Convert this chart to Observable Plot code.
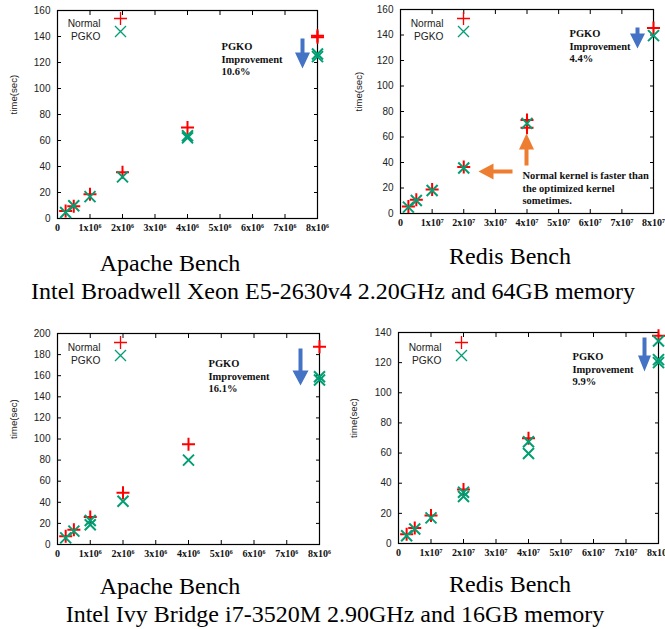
<!DOCTYPE html>
<html><head><meta charset="utf-8">
<script src="https://cdn.jsdelivr.net/npm/d3@7"></script>
<script src="https://cdn.jsdelivr.net/npm/@observablehq/plot@0.6"></script>
<style>
body{margin:0;background:#fff;}
#wrap{position:relative;width:665px;height:629px;overflow:hidden;background:#fff;}
.panel{position:absolute;}
.panel svg{overflow:visible;display:block;max-width:none;}
.t{position:absolute;font-family:"Liberation Serif","Times New Roman",serif;font-size:24px;line-height:24px;white-space:nowrap;color:#000;transform:translateX(-50%);}
</style></head>
<body><div id="wrap"></div>
<script>
// ---- tick values and labels ----
const apacheTicks = [0, 1e6, 2e6, 3e6, 4e6, 5e6, 6e6, 7e6, 8e6];
const apacheTickLabels = ["0", "1x10⁶", "2x10⁶", "3x10⁶", "4x10⁶", "5x10⁶", "6x10⁶", "7x10⁶", "8x10⁶"];
const redisTicks = [0, 1e7, 2e7, 3e7, 4e7, 5e7, 6e7, 7e7, 8e7];
const redisTickLabels = ["0", "1x10⁷", "2x10⁷", "3x10⁷", "4x10⁷", "5x10⁷", "6x10⁷", "7x10⁷", "8x10⁷"];
const yTicks160 = [0, 20, 40, 60, 80, 100, 120, 140, 160];
const yTicks200 = [0, 20, 40, 60, 80, 100, 120, 140, 160, 180, 200];
const yTicks140 = [0, 20, 40, 60, 80, 100, 120, 140];

// ---- Broadwell, Apache Bench ----
const bwApacheNormalX = [0.25e6, 0.5e6, 1e6, 2e6, 4e6, 8e6, 8e6];
const bwApacheNormalY = [5.7, 9.5, 18.6, 35.6, 70, 140.6, 139.4];
const bwApachePgkoX = [0.25e6, 0.5e6, 1e6, 2e6, 4e6, 4e6, 8e6, 8e6];
const bwApachePgkoY = [4.6, 9.8, 16.8, 32, 63.7, 62, 126.5, 124.5];

// ---- Broadwell, Redis Bench ----
const bwRedisNormalX = [0.25e7, 0.5e7, 1e7, 2e7, 4e7, 4e7, 8e7];
const bwRedisNormalY = [5.5, 10.8, 18.9, 36.5, 73.3, 67.2, 145.5];
const bwRedisPgkoX = [0.25e7, 0.5e7, 1e7, 2e7, 4e7, 8e7];
const bwRedisPgkoY = [5, 10.2, 18.1, 35.7, 70.7, 139.5];

// ---- Ivy Bridge, Apache Bench ----
const ivApacheNormalX = [0.25e6, 0.5e6, 1e6, 2e6, 4e6, 8e6];
const ivApacheNormalY = [7.9, 14, 26, 49, 95, 187.5];
const ivApachePgkoX = [0.25e6, 0.5e6, 1e6, 1e6, 2e6, 4e6, 8e6, 8e6];
const ivApachePgkoY = [6.3, 12.7, 22.8, 18.7, 41, 80, 159, 156];

// ---- Ivy Bridge, Redis Bench ----
const ivRedisNormalX = [0.25e7, 0.5e7, 1e7, 2e7, 4e7, 8e7];
const ivRedisNormalY = [6.2, 10.3, 18.5, 35.9, 69.8, 137.8];
const ivRedisPgkoX = [0.25e7, 0.5e7, 1e7, 2e7, 2e7, 4e7, 4e7, 8e7, 8e7, 8e7];
const ivRedisPgkoY = [5.1, 9.6, 17, 34, 31.2, 67.5, 59.7, 134.4, 122, 120];

// ---- texts ----
const titles = ["Apache Bench", "Redis Bench"];
const captions = ["Intel Broadwell Xeon E5-2630v4 2.20GHz and 64GB memory", "Intel Ivy Bridge i7-3520M 2.90GHz and 16GB memory"];
const improvements = ["10.6%", "4.4%", "16.1%", "9.9%"];
const seriesNames = ["Normal", "PGKO"];
const orangeNote = "Normal kernel is faster than\nthe optimized kernel\nsometimes.";

// ---- styling ----
const RED = "#ff0000", GREEN = "#009e73", BLUE = "#4472c4", ORANGE = "#ed7d31";
const SANS = "Liberation Sans, Arial, sans-serif";
const SERIF = "Liberation Serif, Times New Roman, serif";

const plusSym = {draw(ctx, size) { const r = Math.sqrt(size / Math.PI); ctx.moveTo(-r, 0); ctx.lineTo(r, 0); ctx.moveTo(0, -r); ctx.lineTo(0, r); }};
const timesSym = {draw(ctx, size) { const r = Math.sqrt(size / Math.PI); ctx.moveTo(-r, -r); ctx.lineTo(r, r); ctx.moveTo(-r, r); ctx.lineTo(r, -r); }};
function arrowSym(len, headLen, headW, shaftW) {
  return {draw(ctx) {
    ctx.moveTo(0, 0); ctx.lineTo(headW / 2, -headLen); ctx.lineTo(shaftW / 2, -headLen);
    ctx.lineTo(shaftW / 2, -len); ctx.lineTo(-shaftW / 2, -len); ctx.lineTo(-shaftW / 2, -headLen);
    ctx.lineTo(-headW / 2, -headLen); ctx.closePath();
  }};
}

function panel(cfg) {
  const {left, top, width, height, m, xTicks, xLabels, yTicks, normalX, normalY, pgkoX, pgkoY, note, arrows, extra} = cfg;
  const xMax = xTicks[xTicks.length - 1], yMax = yTicks[yTicks.length - 1];
  const marks = [
    Plot.axisY({ticks: yTicks, anchor: "left", tickSize: -4, tickPadding: 11, fontFamily: SANS, fontSize: 10, fill: "#222", stroke: "#000"}),
    Plot.axisY({ticks: yTicks, anchor: "right", tickSize: -4, tickFormat: () => "", stroke: "#000"}),
    Plot.axisX({ticks: xTicks, anchor: "bottom", tickSize: -4, tickPadding: 9.5, tickFormat: d => xLabels[xTicks.indexOf(d)], fontFamily: SERIF, fontWeight: "bold", fontSize: 10, fill: "#111", stroke: "#000"}),
    Plot.axisX({ticks: xTicks, anchor: "top", tickSize: -4, tickFormat: () => "", stroke: "#000"}),
    Plot.frame({stroke: "#000", strokeWidth: 1.2}),
    Plot.text(["time(sec)"], {frameAnchor: "left", dx: cfg.labelDx, rotate: -90, fontFamily: SANS, fontSize: 9.7, fill: "#222"}),
    // legend
    Plot.text([seriesNames[0]], {frameAnchor: "top-left", dx: 43, dy: cfg.legDy, textAnchor: "end", fontFamily: SANS, fontSize: 10.2, fill: "#222"}),
    Plot.text([seriesNames[1]], {frameAnchor: "top-left", dx: 43, dy: cfg.legDy + 13, textAnchor: "end", fontFamily: SANS, fontSize: 10.2, fill: "#222"}),
    Plot.dot([0], {frameAnchor: "top-left", dx: 63, dy: cfg.legDy - 1, symbol: plusSym, r: 6.5, stroke: RED, strokeWidth: 1.3, fill: "none"}),
    Plot.dot([0], {frameAnchor: "top-left", dx: 63, dy: cfg.legDy + 12, symbol: timesSym, r: 5.5, stroke: GREEN, strokeWidth: 1.3, fill: "none"}),
    // data
    Plot.dot(normalX, {x: normalX, y: normalY, symbol: plusSym, r: 6.5, stroke: RED, strokeWidth: 2, fill: "none"}),
    Plot.dot(pgkoX, {x: pgkoX, y: pgkoY, symbol: timesSym, r: 5.5, stroke: GREEN, strokeWidth: 2, fill: "none"}),
    // improvement note
    Plot.text([note.text], {frameAnchor: "top-left", dx: note.dx, dy: note.dy, textAnchor: "start", lineAnchor: "middle", lineHeight: 1.19, fontFamily: SERIF, fontWeight: "bold", fontSize: 10.5, fill: "#111"}),
    ...arrows.map(a => Plot.dot([0], {frameAnchor: "top-left", dx: a.dx, dy: a.dy, rotate: a.rot || 0, r: 1, symbol: arrowSym(a.len, a.hl, a.hw, 4), fill: a.color, stroke: "none"})),
    ...(extra || [])
  ];
  const svg = Plot.plot({
    width, height, marginLeft: m[0], marginRight: m[1], marginTop: m[2], marginBottom: m[3],
    x: {domain: [0, xMax], axis: null},
    y: {domain: [0, yMax], axis: null},
    style: {overflow: "visible", background: "transparent"},
    marks
  });
  const div = document.createElement("div");
  div.className = "panel";
  div.style.left = left + "px"; div.style.top = top + "px"; div.style.width = width + "px"; div.style.height = height + "px";
  div.appendChild(svg);
  document.getElementById("wrap").appendChild(div);
}

function label(text, cx, baseline) {
  const d = document.createElement("div");
  d.className = "t"; d.textContent = text;
  d.style.left = cx + "px"; d.style.top = (baseline - 20.1) + "px";
  document.getElementById("wrap").appendChild(d);
}

panel({left: 0, top: 0, width: 340, height: 240, m: [57, 23, 10, 22],
  xTicks: apacheTicks, xLabels: apacheTickLabels, yTicks: yTicks160,
  normalX: bwApacheNormalX, normalY: bwApacheNormalY, pgkoX: bwApachePgkoX, pgkoY: bwApachePgkoY,
  labelDx: -44, legDy: 9,
  note: {text: "PGKO\nImprovement\n" + improvements[0], dx: 164, dy: 48},
  arrows: [{dx: 245, dy: 58, len: 30, hl: 16, hw: 15, color: BLUE}]
});
panel({left: 340, top: 0, width: 325, height: 235, m: [60, 12, 9, 22],
  xTicks: redisTicks, xLabels: redisTickLabels, yTicks: yTicks160,
  normalX: bwRedisNormalX, normalY: bwRedisNormalY, pgkoX: bwRedisPgkoX, pgkoY: bwRedisPgkoY,
  labelDx: -42, legDy: 10,
  note: {text: "PGKO\nImprovement\n" + improvements[1], dx: 169, dy: 36},
  arrows: [
    {dx: 237, dy: 39, len: 21, hl: 15, hw: 15, color: BLUE},
    {dx: 78, dy: 162, len: 34, hl: 15, hw: 16, color: ORANGE, rot: 90},
    {dx: 126, dy: 124, len: 32, hl: 16, hw: 15, color: ORANGE, rot: 180}
  ],
  extra: [Plot.text([orangeNote], {frameAnchor: "top-left", dx: 122, dy: 178, textAnchor: "start", lineAnchor: "middle", lineHeight: 1.19, fontFamily: SERIF, fontWeight: "bold", fontSize: 10.5, fill: "#111"})]
});
panel({left: 0, top: 322, width: 340, height: 245, m: [57, 21, 11, 23],
  xTicks: apacheTicks, xLabels: apacheTickLabels, yTicks: yTicks200,
  normalX: ivApacheNormalX, normalY: ivApacheNormalY, pgkoX: ivApachePgkoX, pgkoY: ivApachePgkoY,
  labelDx: -44, legDy: 10,
  note: {text: "PGKO\nImprovement\n" + improvements[2], dx: 151, dy: 42},
  arrows: [{dx: 243, dy: 52, len: 37, hl: 15, hw: 16, color: BLUE}]
});
panel({left: 340, top: 322, width: 325, height: 245, m: [58, 7, 10, 24],
  xTicks: redisTicks, xLabels: redisTickLabels, yTicks: yTicks140,
  normalX: ivRedisNormalX, normalY: ivRedisNormalY, pgkoX: ivRedisPgkoX, pgkoY: ivRedisPgkoY,
  labelDx: -45, legDy: 11,
  note: {text: "PGKO\nImprovement\n" + improvements[3], dx: 174, dy: 36},
  arrows: [{dx: 246, dy: 39, len: 34, hl: 16, hw: 13, color: BLUE}]
});

label(titles[0], 170, 271);
label(titles[1], 510, 264);
label(captions[0], 333, 299);
label(titles[0], 170, 594);
label(titles[1], 510, 592);
label(captions[1], 335, 622);
</script>
</body></html>
